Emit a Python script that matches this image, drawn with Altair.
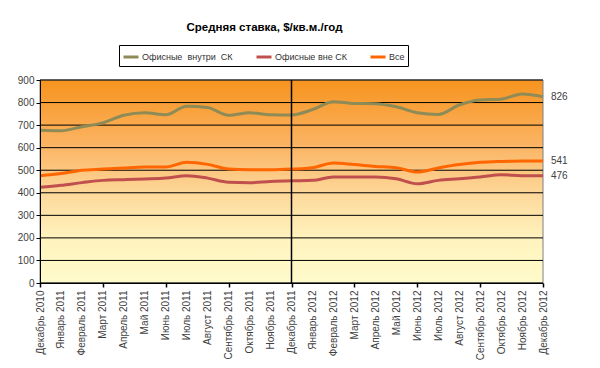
import altair as alt
import pandas as pd

months = [
    "Декабрь 2010", "Январь 2011", "Февраль 2011", "Март 2011", "Апрель 2011",
    "Май 2011", "Июнь 2011", "Июль 2011", "Август 2011", "Сентябрь 2011",
    "Октябрь 2011", "Ноябрь 2011", "Декабрь 2011", "Январь 2012", "Февраль 2012",
    "Март 2012", "Апрель 2012", "Май 2012", "Июнь 2012", "Июль 2012",
    "Август 2012", "Сентябрь 2012", "Октябрь 2012", "Ноябрь 2012", "Декабрь 2012",
]
inner = [677, 675, 693, 710, 744, 755, 746, 784, 778, 744, 755, 746, 745,
         769, 804, 796, 795, 781, 755, 747, 789, 811, 815, 838, 826]
outer = [424, 433, 445, 455, 458, 461, 465, 476, 465, 447, 445, 450, 453,
         455, 470, 470, 470, 462, 440, 455, 462, 470, 480, 476, 476]
total = [476, 485, 500, 505, 510, 514, 514, 535, 526, 505, 502, 502, 505,
         511, 532, 525, 517, 511, 492, 510, 525, 535, 539, 541, 541]

series_names = ["Офисные\u00a0 внутри\u00a0 СК", "Офисные вне СК", "Все"]
series_colors = ["#8E8B57", "#C0504D", "#FF6600"]
divider = ["Декабрь 2011"]
tick_months = months[::3]
y_ticks = list(range(0, 1000, 100))

rows = []
for name, vals in zip(series_names, [inner, outer, total]):
    for m, v in zip(months, vals):
        rows.append({"month": m, "series": name, "value": v})
df = pd.DataFrame(rows)
last = df[df["month"] == months[-1]]

W, H = 503, 203
FONT = "Liberation Sans"
xscale = alt.Scale(type="point", padding=0)
yscale = alt.Scale(domain=[0, 900], nice=False)

y_axis = alt.Axis(values=y_ticks, title=None, grid=False, tickColor="black",
                  domainColor="black", tickSize=4, labelPadding=2, labelFontSize=10,
                  labelColor="#404040", labelFont=FONT, zindex=1)

gradient = alt.LinearGradient(
    gradient="linear",
    stops=[
        alt.GradientStop(color="#F7931E", offset=0),
        alt.GradientStop(color="#FBB565", offset=0.33),
        alt.GradientStop(color="#FDD89A", offset=0.56),
        alt.GradientStop(color="#FFF3BE", offset=0.78),
        alt.GradientStop(color="#FFFBCB", offset=1),
    ],
    x1=0, x2=0, y1=0, y2=1,
)

background = alt.Chart(pd.DataFrame({"bg": [0]})).mark_rect(
    color=gradient, stroke="#808080", strokeWidth=1
).encode(x=alt.value(0), x2=alt.value(W), y=alt.value(0), y2=alt.value(H))

grid = alt.Chart(pd.DataFrame({"value": y_ticks})).mark_rule(color="black", strokeWidth=1).encode(
    y=alt.Y("value:Q", scale=yscale, axis=y_axis),
)

lines = alt.Chart(df).mark_line(interpolate="monotone", strokeWidth=3).encode(
    x=alt.X("month:N", sort=months, scale=xscale,
            axis=alt.Axis(title=None, labelAngle=-90, ticks=False, tickSize=0,
                          labelPadding=7, domain=True, domainColor="black",
                          labelFontSize=10, labelColor="#404040", labelFont=FONT,
                          grid=False, labelOverlap=False, orient="bottom", zindex=1)),
    y=alt.Y("value:Q", scale=yscale, axis=y_axis),
    color=alt.Color("series:N", scale=alt.Scale(domain=series_names, range=series_colors),
                    legend=alt.Legend(title=None, orient="none", legendX=79, legendY=-35,
                                      direction="horizontal", symbolType="stroke",
                                      symbolStrokeWidth=3, symbolSize=225,
                                      labelFontSize=9, labelFont=FONT, labelColor="#333333",
                                      strokeColor="black", fillColor="white", padding=3,
                                      columnPadding=17, labelOffset=2, labelLimit=250)),
)

rule = alt.Chart(pd.DataFrame({"month": divider})).mark_rule(color="black", strokeWidth=1.5).encode(
    x=alt.X("month:N", sort=months, scale=xscale,
            axis=alt.Axis(values=tick_months, labels=False, ticks=True, tickSize=4,
                          tickColor="black", tickWidth=1.5, domain=False, title=None,
                          grid=False, orient="bottom", zindex=1)),
)

text = alt.Chart(last).mark_text(align="left", dx=8, fontSize=10, font=FONT, color="#404040").encode(
    x=alt.X("month:N", sort=months, scale=xscale, axis=None),
    y=alt.Y("value:Q", scale=yscale, axis=y_axis),
    text=alt.Text("value:Q"),
)

chart = alt.layer(background, grid, lines, rule, text).resolve_axis(x="independent").properties(
    width=W, height=H,
    title=alt.TitleParams(text="Средняя ставка, $/кв.м./год", fontSize=11.5,
                          fontWeight="bold", font=FONT, anchor="middle", frame="group",
                          dx=-27, offset=11, color="black"),
    autosize="none",
    padding={"left": 32, "top": 72, "right": 49, "bottom": 77},
).configure_view(stroke=None)

chart.save("out.html", embed_options={"renderer": "svg", "actions": False})
